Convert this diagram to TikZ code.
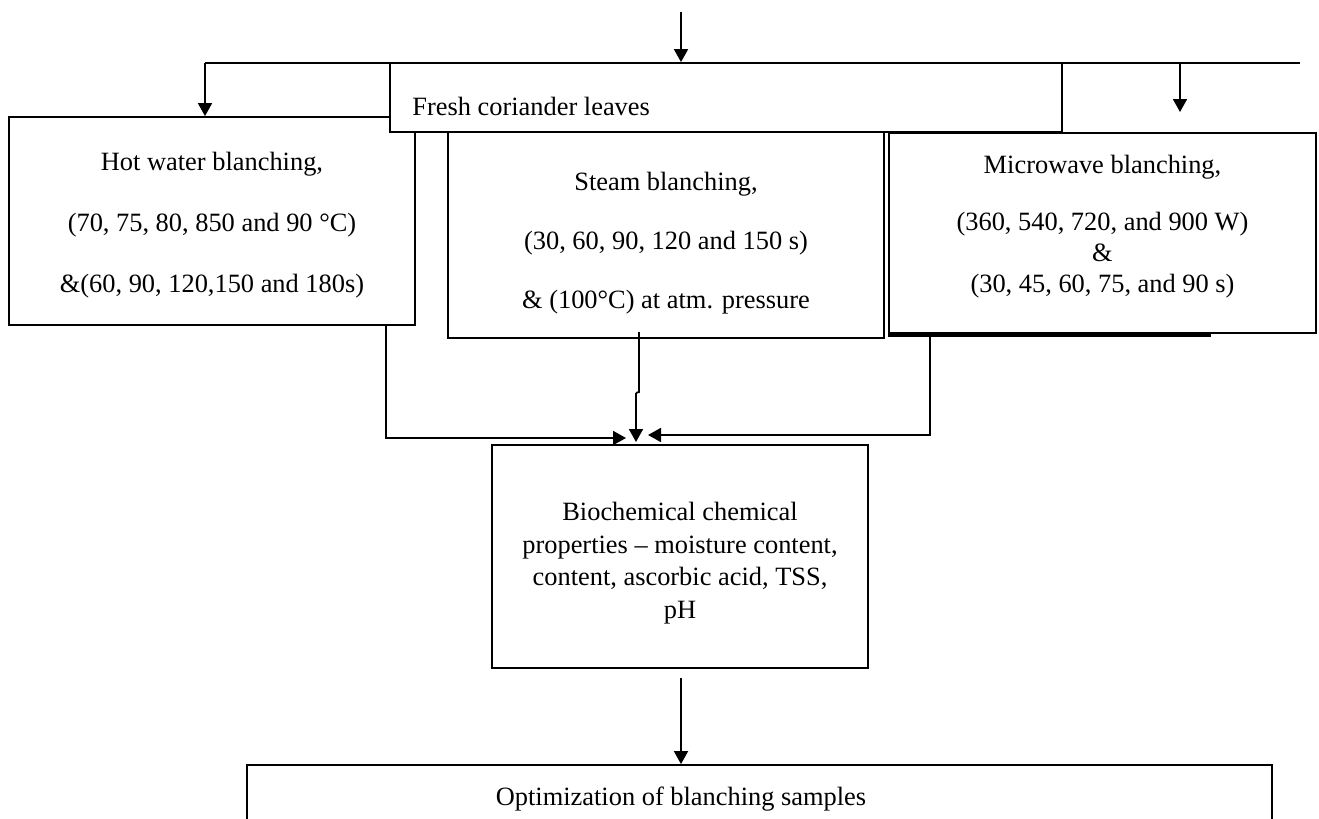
\documentclass[tikz,border=0pt]{standalone}
\usepackage{fontspec}
\setmainfont{Liberation Serif}
\usetikzlibrary{arrows.meta}
\begin{document}
\begin{tikzpicture}[x=0.5pt,y=-0.5pt,
  font=\fontsize{13.2}{15.5}\selectfont,
  box/.style={draw,line width=0.9pt,inner sep=0pt,fill=white},
  conn/.style={line width=0.9pt},
  arr/.style={line width=0.9pt,-{Triangle[length=6.5pt,width=7pt]}},
  txt/.style={inner sep=0pt,align=center}]
\useasboundingbox (0,0) rectangle (1319,819);
% boxes
\node[box,minimum width=203pt,minimum height=104pt] (hot) at (212,221) {};
\node[txt] (hottext) at (212,225)
  {Hot water blanching,\\[15pt](70, 75, 80, 850 and 90 °C)\\[15pt]\&(60, 90, 120,150 and 180s)};
\node[box,minimum width=218pt,minimum height=103pt] (steam) at (666,235) {};
\node[txt] (steamtext) at (666,243)
  {Steam blanching,\\[14pt](30, 60, 90, 120 and 150 s)\\[14pt]\& (100°C) at atm. pressure};
\node[box,minimum width=213.5pt,minimum height=100pt] (micro) at (1102.5,233) {};
\node[txt] (microtext) at (1102.5,227)
  {Microwave blanching,\\[13pt](360, 540, 720, and 900 W)\\\&\\(30, 45, 60, 75, and 90 s)};
\draw[line width=1.3pt] (micro.south west) ++(0,1.5) -- ++(323,0);
\node[box,minimum width=336pt,minimum height=34.5pt] (fresh) at (726,97.5) {};
\node[txt,anchor=base west] (freshtext) at (412,115) {Fresh coriander leaves};
\node[box,minimum width=188pt,minimum height=111.5pt] (bio) at (680,556.5) {};
\node[txt,font=\fontsize{13.2}{16.25}\selectfont] (biotext) at (680,563)
  {Biochemical chemical\\properties – moisture content,\\content, ascorbic acid, TSS,\\pH};
\node[box,minimum width=512.5pt,minimum height=45pt] (opt) at (759.5,810) {};
\node[txt,anchor=base] (opttext) at (681,805) {Optimization of blanching samples};
% top distribution
\coordinate (top) at (681,12);
\coordinate (lineL) at (205,63);
\coordinate (lineR) at (1300,63);
\coordinate (rfree) at (1180,112);
\draw[arr] (top) -- (top |- fresh.north);
\draw[conn,line width=0.7pt] (lineL) -- (lineR);
\draw[arr] (lineL) -- (lineL |- hot.north);
\draw[arr] (rfree |- lineL) -- (rfree);
% to bio
\coordinate (tipL) at (626,438);
\coordinate (tipM) at (636,442);
\coordinate (tipR) at (648,435);
\draw[arr] (hot.south -| 386,0) -- (386,438) -- (tipL);
\draw[conn] (639,332) -- (639,392) -- (636,393);
\draw[arr] (636,393) -- (tipM);
\draw[arr] (micro.south -| 930,0) -- (930,435) -- (tipR);
\draw[arr] (681,678) -- (opt.north -| 681,0);
\end{tikzpicture}
\end{document}
